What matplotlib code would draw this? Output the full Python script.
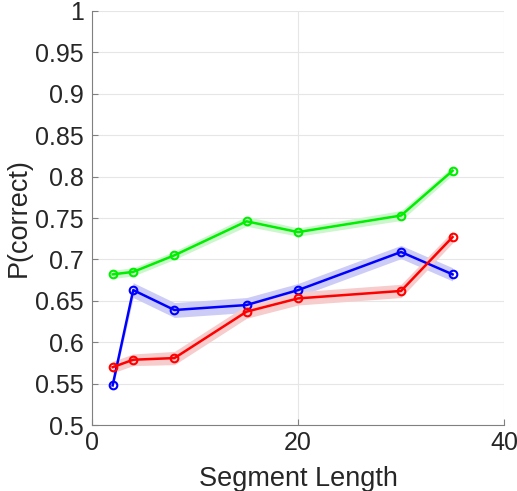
import numpy as np
import matplotlib.pyplot as plt

seg_len = [2, 4, 8, 15, 20, 30, 35]

green = [0.682, 0.685, 0.705, 0.746, 0.733, 0.753, 0.807]
green_err = [0.005, 0.005, 0.005, 0.006, 0.005, 0.006, 0.005]
blue = [0.548, 0.663, 0.639, 0.645, 0.663, 0.709, 0.682]
blue_err = [0.004, 0.009, 0.009, 0.009, 0.008, 0.008, 0.008]
red = [0.570, 0.579, 0.581, 0.637, 0.653, 0.662, 0.727]
red_err = [0.007, 0.007, 0.008, 0.008, 0.008, 0.008, 0.007]

series = [
    (green, green_err, '#00ee00', '#ccf7cc'),
    (blue, blue_err, '#0000ff', '#ccccf7'),
    (red, red_err, '#ff0000', '#f7cccc'),
]

plt.rcParams['font.family'] = ['Liberation Sans', 'DejaVu Sans']

fig = plt.figure(figsize=(5.17, 4.91), dpi=100)
ax = fig.add_axes([0.178, 0.134, 0.797, 0.844])

x = np.array(seg_len)
for vals, err, col, fill in series:
    v = np.array(vals)
    e = np.array(err)
    ax.fill_between(x, v - e, v + e, color=fill, lw=0, zorder=2)
for vals, err, col, fill in series:
    ax.plot(x, vals, '-o', color=col, lw=1.8, ms=5.5, mfc='none', mew=1.5, zorder=3)

ax.set_xlim(0, 40)
ax.set_ylim(0.5, 1.0)
ax.set_xticks([0, 20, 40])
ax.set_yticks(np.arange(0.5, 1.001, 0.05))
ax.set_yticklabels(['0.5', '0.55', '0.6', '0.65', '0.7', '0.75', '0.8', '0.85', '0.9', '0.95', '1'])
ax.grid(True, color='#e6e6e6', lw=0.8, zorder=0)
ax.set_axisbelow(True)

for s in ['top', 'right']:
    ax.spines[s].set_visible(False)
for s in ['left', 'bottom']:
    ax.spines[s].set_color('#808080')
    ax.spines[s].set_linewidth(0.8)

ax.tick_params(axis='both', direction='in', length=4, color='#808080',
               labelsize=18, labelcolor='#262626')
ax.tick_params(axis='y', pad=6)
ax.tick_params(axis='x', pad=4)
ax.set_xlabel('Segment Length', fontsize=19.5, color='#262626', labelpad=8)
ax.set_ylabel('P(correct)', fontsize=19.5, color='#262626', labelpad=2)

fig.savefig('out.png', dpi=100)
